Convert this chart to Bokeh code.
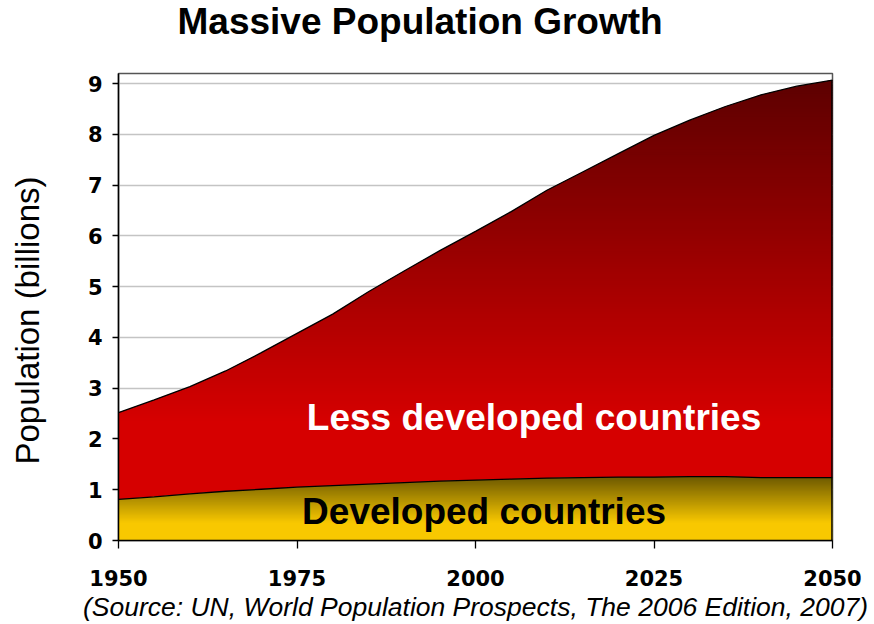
from bokeh.plotting import figure
from bokeh.models import FixedTicker, Range1d, Title
from bokeh.core.properties import value
from bokeh.embed import file_html
from bokeh.resources import INLINE
import numpy as np

# ---- data (billions), UN World Population Prospects 2006 ----
years = [1950, 1955, 1960, 1965, 1970, 1975, 1980, 1985, 1990, 1995, 2000,
         2005, 2010, 2015, 2020, 2025, 2030, 2035, 2040, 2045, 2050]
world_total = [2.52, 2.77, 3.03, 3.34, 3.70, 4.08, 4.46, 4.90, 5.31, 5.71, 6.09,
               6.48, 6.90, 7.26, 7.62, 7.98, 8.28, 8.55, 8.78, 8.95, 9.07]
developed = [0.81, 0.86, 0.92, 0.97, 1.01, 1.05, 1.08, 1.11, 1.14, 1.17, 1.19,
             1.21, 1.23, 1.24, 1.25, 1.25, 1.26, 1.26, 1.24, 1.24, 1.24]
x_ticks = [1950, 1975, 2000, 2025, 2050]
y_ticks = [0, 1, 2, 3, 4, 5, 6, 7, 8, 9]

TICK_FONT = "DejaVu Sans"
MAIN_FONT = "Liberation Sans"

p = figure(width=872, height=624, output_backend="svg", toolbar_location=None,
           x_range=Range1d(1950, 2050), y_range=Range1d(0, 9.2),
           min_border_left=118, min_border_right=40, min_border_top=73, min_border_bottom=84,
           title="Massive Population Growth")
p.background_fill_color = "white"
p.border_fill_color = "white"
p.outline_line_color = "#555555"
p.outline_line_width = 1.5

p.title.text_font = MAIN_FONT
p.title.text_font_size = "37px"
p.title.text_font_style = "bold"
p.title.text_color = "black"
p.title.align = "left"
p.title.offset = 59
p.title.standoff = 0
p.title.vertical_align = "top"
# spacer between the frame and the title (pushes the title to the top edge)
p.add_layout(Title(text=" ", text_font_size="1px", standoff=27), "above")


# ---- gradient fill: area polygon clipped into thin horizontal bands ----
def clip_half(pts, y0, keep_above):
    out = []
    n = len(pts)
    for i in range(n):
        cur = pts[i]
        prev = pts[i - 1]
        cin = cur[1] >= y0 if keep_above else cur[1] <= y0
        pin = prev[1] >= y0 if keep_above else prev[1] <= y0
        if cin:
            if not pin:
                t = (y0 - prev[1]) / (cur[1] - prev[1])
                out.append((prev[0] + t * (cur[0] - prev[0]), y0))
            out.append(cur)
        elif pin:
            t = (y0 - prev[1]) / (cur[1] - prev[1])
            out.append((prev[0] + t * (cur[0] - prev[0]), y0))
    return out


def strips(lower, upper, v0, v1, n, color_fn):
    poly = list(zip(years, upper)) + list(zip(years[::-1], lower[::-1]))
    edges = np.linspace(v0, v1, n + 1)
    step = edges[1] - edges[0]
    xs, ys, cols = [], [], []
    for a, b in zip(edges[:-1], edges[1:]):
        pts = clip_half(poly, a, True)
        if len(pts) < 3:
            continue
        pts = clip_half(pts, b + step * 0.7, False)
        if len(pts) < 3:
            continue
        xs.append([q[0] for q in pts])
        ys.append([q[1] for q in pts])
        cols.append(color_fn((a + b) / 2))
    return xs, ys, cols


def red_color(v):
    t = min(max((v - 2.3) / (9.1 - 2.3), 0.0), 1.0)
    r = int(round(214 + (92 - 214) * t))
    return "#%02x0000" % r


def yellow_color(v):
    t = min(max((v - 0.35) / (1.26 - 0.35), 0.0), 1.0)
    r = int(round(248 + (108 - 248) * t))
    g = int(round(200 + (88 - 200) * t))
    return "#%02x%02x00" % (r, g)


zeros = [0.0] * len(years)
xs, ys, cols = strips(developed, world_total, 0.7, 9.2, 170, red_color)
p.patches(xs, ys, fill_color=cols, line_color=None)
xs, ys, cols = strips(zeros, developed, 0.0, 1.3, 52, yellow_color)
p.patches(xs, ys, fill_color=cols, line_color=None)

p.line(years, world_total, line_color="black", line_width=1.3)
p.line(years, developed, line_color="black", line_width=1.3)
p.line([years[-1], years[-1]], [0, world_total[-1]], line_color="black", line_width=2.5)

p.text(x=[2008.2], y=[2.42], text=["Less developed countries"], text_color="white",
       text_font=value(MAIN_FONT), text_font_style="bold", text_font_size="37px",
       text_align="center", text_baseline="middle")
p.text(x=[2001.2], y=[0.57], text=["Developed countries"], text_color="black",
       text_font=value(MAIN_FONT), text_font_style="bold", text_font_size="37px",
       text_align="center", text_baseline="middle")

# grid
p.xgrid.visible = False
p.ygrid.grid_line_color = "#c4c4c4"
p.ygrid.grid_line_width = 1.5
p.ygrid.ticker = FixedTicker(ticks=y_ticks)

# axes
p.yaxis.ticker = FixedTicker(ticks=y_ticks)
p.xaxis.ticker = FixedTicker(ticks=x_ticks)
for ax in (p.xaxis, p.yaxis):
    ax.axis_line_color = "black"
    ax.axis_line_width = 1.5
    ax.major_tick_line_color = "black"
    ax.major_tick_line_width = 1.3
    ax.major_tick_in = 0
    ax.minor_tick_line_color = None
    ax.major_label_text_font = TICK_FONT
    ax.major_label_text_font_style = "bold"
    ax.major_label_text_font_size = "21px"
    ax.major_label_text_color = "black"
p.yaxis.major_tick_out = 6
p.xaxis.major_tick_out = 8
p.yaxis.major_label_standoff = 10
p.xaxis.major_label_standoff = 21

# y-axis title: spacer next to the axis, then the rotated label
p.add_layout(Title(text=" ", text_font_size="1px", standoff=36), "left")
p.add_layout(Title(text="Population (billions)", align="left", offset=76,
                   vertical_align="bottom", standoff=0,
                   text_font=MAIN_FONT, text_font_size="33px", text_font_style="normal",
                   text_color="black"), "left")

p.xaxis.axis_label = "(Source: UN, World Population Prospects, The 2006 Edition, 2007)"
p.xaxis.axis_label_text_font = MAIN_FONT
p.xaxis.axis_label_text_font_style = "italic"
p.xaxis.axis_label_text_font_size = "26.5px"
p.xaxis.axis_label_text_color = "black"
p.xaxis.axis_label_standoff = 3

open("out.html", "w").write(file_html(p, INLINE))
